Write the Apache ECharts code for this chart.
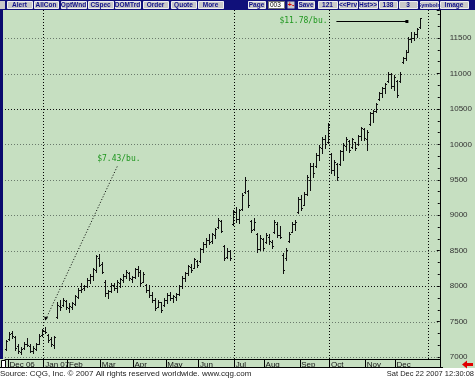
<!DOCTYPE html>
<html><head><meta charset="utf-8">
<script src="https://cdn.jsdelivr.net/npm/echarts@6/dist/echarts.min.js"></script>
<style>html,body{margin:0;padding:0;background:#fff;}#c{width:475px;height:379px;}</style>
</head><body><div id="c"></div>
<script>
// ---- data (soybean futures, cents*10 per bushel) ----
const highs = [7240,7353,7367,7297,7183,7141,7212,7268,7183,7155,7198,7325,7395,7430,7325,7282,7297,
7776,7805,7833,7805,7762,7776,7875,7974,8045,8017,8115,8172,8257,8440,8454,8341,8087,7946,8045,8045,8087,8115,8172,
8228,8200,8144,8257,8285,8228,8200,8031,8017,7918,7833,7805,7776,7833,7904,7918,7875,7904,8017,8144,
8200,8299,8313,8398,8370,8539,8624,8680,8737,8751,8822,8963,8934,8581,8539,8511,9076,9118,9090,9315,
9540,9358,8934,8963,8751,8720,8680,8751,8737,8652,8934,8906,8850,8468,8539,8765,8906,8934,9260,9287,
9330,9570,9739,9739,9880,9993,10106,10135,10304,9880,9782,9739,9923,10022,10106,10064,10092,10036,10135,10247,
10233,10205,10459,10488,10586,10742,10812,10869,11024,11010,10982,10911,11024,11236,11335,11518,11589,11589,11645,11780];
const lows = [7099,7240,7268,7099,7056,7042,7113,7155,7070,7056,7099,7183,7297,7339,7212,7155,7127,
7550,7664,7720,7678,7635,7678,7734,7833,7918,7946,7988,8045,8087,8200,8285,8186,7861,7833,7918,7946,7918,7988,8059,
8115,8087,8059,8115,8144,8017,8059,7918,7847,7776,7664,7706,7635,7720,7762,7805,7776,7805,7875,7974,
8073,8158,8200,8257,8271,8341,8483,8553,8596,8610,8680,8822,8765,8370,8398,8370,8864,8906,8890,9076,
9315,9118,8765,8793,8483,8511,8511,8610,8596,8539,8751,8694,8680,8186,8370,8624,8765,8793,9033,9076,
9146,9287,9358,9541,9683,9782,9880,9951,10022,9598,9570,9499,9711,9782,9923,9894,9951,9923,9993,10064,
10064,9923,10276,10318,10459,10629,10671,10728,10883,10798,10770,10671,10883,11151,11194,11306,11448,11476,11518,11645];
const opens = [7120,7250,7340,7280,7150,7070,7130,7180,7160,7080,7120,7190,7310,7370,7310,7250,7170,
7560,7720,7730,7790,7690,7700,7750,7850,7940,7970,8000,8080,8140,8230,8400,8310,8060,7900,7930,8010,7970,8050,8090,
8140,8190,8100,8130,8240,8200,8060,8020,7950,7880,7800,7710,7770,7730,7800,7880,7830,7850,7890,8000,
8110,8180,8270,8260,8360,8350,8520,8600,8650,8630,8720,8830,8920,8560,8410,8490,8880,9040,8950,9090,
9330,9340,8920,8800,8730,8530,8660,8620,8700,8620,8760,8880,8720,8440,8390,8640,8770,8880,9050,9230,
9150,9300,9500,9700,9700,9850,9950,10080,10030,9860,9640,9720,9720,9900,9980,10050,9960,10030,10000,10120,
10220,10080,10290,10440,10470,10640,10720,10790,10890,10990,10830,10900,10890,11160,11220,11310,11480,11500,11560,11650];
const closes = [7220,7330,7290,7130,7080,7120,7190,7170,7090,7130,7180,7300,7380,7350,7240,7180,7280,
7740,7700,7800,7700,7720,7760,7860,7950,7960,8000,8090,8150,8240,8420,8300,8200,7900,7930,8020,7970,8060,8100,8150,
8200,8110,8130,8240,8200,8050,8170,7940,7870,7800,7690,7780,7660,7810,7880,7830,7860,7890,8000,8120,
8180,8280,8230,8380,8300,8520,8600,8650,8620,8730,8800,8940,8780,8400,8500,8400,9050,8950,9070,9290,
9500,9150,8790,8900,8520,8680,8540,8720,8630,8560,8900,8720,8700,8230,8510,8740,8880,8910,9230,9100,
9300,9540,9700,9600,9850,9960,10080,10000,10280,9640,9750,9540,9900,9990,10080,9920,10070,9950,10120,10230,
10090,10180,10440,10470,10570,10720,10790,10850,10990,10830,10950,10700,11000,11220,11310,11490,11500,11560,11630,11780];

const slotCount = 146;                       // bar slots across the x axis
const categories = Array.from({length: slotCount}, (_, i) => 'd' + i);
const monthLabels = ['Dec 06','Jan 07','Feb','Mar','Apr','May','Jun','Jul','Aug','Sep','Oct','Nov','Dec'];
const monthStarts = [1,13,21,32,43,54,65,77,87,99,109,121,131];
const quarterLines = [13,77,109,142];
const priceGrid = [7000,7500,8000,8500,9000,9500,10000,10500,11000,11500];
const majorGrid = [8000,10500];
const lowNote = {slot: 13, price: 7430, text: '$7.43/bu.'};
const highNote = {slot: 139, price: 11780, text: '$11.78/bu.'};

const toolbarButtons = [
  ['Alert',7,32],['AllCon',34,58],['OptWnd',61,86],['CSpec',88,113],['DOMTrd',115,140],
  ['Order',143,168],['Quote',171,196],['More',198,223],['Page',248,265],['Save',298,314],
  ['121',318,337],['<<Prv',339,357],['Hst>>',359,377],['138',379,397],['3',399,417],
  ['Symbols',420,438],['Image',440,468]
];

const ohlcData = highs.map((h, i) => [i, opens[i], h, lows[i], closes[i]]);

function renderOHLC(params, api) {
  const i = api.value(0);
  const pO = api.coord([i, api.value(1)]);
  const pH = api.coord([i, api.value(2)]);
  const pL = api.coord([i, api.value(3)]);
  const pC = api.coord([i, api.value(4)]);
  const x = Math.round(pH[0]) + 0.5;
  const st = {stroke: '#101010', lineWidth: 1};
  const yo = Math.round(pO[1]) + 0.5, yc = Math.round(pC[1]) + 0.5;
  return {type: 'group', children: [
    {type: 'line', shape: {x1: x, y1: Math.round(pH[1]), x2: x, y2: Math.round(pL[1]) + 1}, style: st},
    {type: 'line', shape: {x1: x - 1.5, y1: yo, x2: x, y2: yo}, style: st},
    {type: 'line', shape: {x1: x, y1: yc, x2: x + 1.5, y2: yc}, style: st}
  ]};
}

const chart = echarts.init(document.getElementById('c'), null, {renderer: 'canvas'});
const GREEN = '#c6dfc1';

const option = {
  animation: false,
  backgroundColor: GREEN,
  grid: {left: 5, right: 32, top: 10, bottom: 20},
  xAxis: {
    type: 'category', data: categories, boundaryGap: true,
    axisLine: {show: true, lineStyle: {color: '#000', width: 1}},
    axisTick: {show: true, length: 8, interval: (idx) => monthStarts.includes(idx), lineStyle: {color: '#000'}},
    axisLabel: {show: true, interval: (idx) => monthStarts.includes(idx), align: 'left', margin: 2,
      formatter: (v, idx) => monthLabels[monthStarts.indexOf(idx)] || '',
      fontSize: 8, fontFamily: 'Liberation Sans', color: '#111'},
    splitLine: {show: true, interval: (idx) => quarterLines.includes(idx),
      lineStyle: {color: '#000', type: [1, 2], width: 1}}
  },
  yAxis: {
    type: 'value', position: 'right', min: 6972, max: 11896, splitNumber: 10, scale: true,
    axisLine: {show: true, lineStyle: {color: '#000', width: 1}},
    axisTick: {show: true, inside: true, length: 3, lineStyle: {color: '#000'}},
    minorTick: {show: true, splitNumber: 3, length: 2, lineStyle: {color: '#000'}},
    splitLine: {show: false},
    axisLabel: {margin: 10, fontSize: 8, fontFamily: 'Liberation Sans', color: '#333',
      formatter: (v) => (v % 500 === 0 ? String(v) : '')}
  },
  series: [{
    type: 'custom', renderItem: renderOHLC, data: ohlcData,
    dimensions: ['slot', 'open', 'high', 'low', 'close'],
    encode: {x: 0, y: [1, 2, 3, 4]}, clip: false, z: 5
  }]
};
chart.setOption(option);

// ---- gridlines, annotations & chrome ----
const g = [];
const gridRect = chart.getModel().getComponent('grid', 0).coordinateSystem.getRect();
priceGrid.forEach(v => {
  const y = Math.round(chart.convertToPixel({yAxisIndex: 0}, v)) + 0.5;
  const major = majorGrid.includes(v);
  g.push({type: 'line', shape: {x1: gridRect.x, y1: y, x2: gridRect.x + gridRect.width, y2: y},
    style: {stroke: major ? '#111' : '#6a7a6c', lineWidth: 1, lineDash: [1, 2]}, z: 1, silent: true});
});
const tipLow = chart.convertToPixel({seriesIndex: 0}, [lowNote.slot, lowNote.price]);
const tipHigh = chart.convertToPixel({seriesIndex: 0}, [highNote.slot, highNote.price]);
// footer
g.push({type: 'rect', shape: {x: 0, y: 368, width: 475, height: 11}, style: {fill: '#fff'}, z: 50});
g.push({type: 'line', shape: {x1: 0, y1: 367.5, x2: 443, y2: 367.5}, style: {stroke: '#000', lineWidth: 1}, z: 51});
g.push({type: 'rect', shape: {x: 1.5, y: 360.5, width: 4, height: 7}, style: {fill: '#fff', stroke: '#000', lineWidth: 1}, z: 51});
g.push({type: 'text', x: 0, y: 374, style: {text: 'Source: CQG, Inc. \u00a9 2007 All rights reserved worldwide. www.cqg.com',
  fontSize: 8, fontFamily: 'Liberation Sans', fill: '#222', verticalAlign: 'middle'}, z: 52});
g.push({type: 'text', x: 474, y: 374, style: {text: 'Sat Dec 22 2007 12:30:08', align: 'right',
  fontSize: 7.5, fontFamily: 'Liberation Sans', fill: '#222', verticalAlign: 'middle'}, z: 52});
// red arrow
g.push({type: 'polygon', shape: {points: [[462,364.5],[467,360.5],[467,363],[473,363],[473,366],[467,366],[467,368.5]]},
  style: {fill: '#e00000'}, z: 52});
// left navy strip and toolbar
g.push({type: 'rect', shape: {x: 0, y: 0, width: 3, height: 359}, style: {fill: '#0a0a6e'}, z: 50});
g.push({type: 'rect', shape: {x: 0, y: 0, width: 475, height: 10}, style: {fill: '#10107a'}, z: 50});
g.push({type: 'rect', shape: {x: 0, y: 1, width: 5, height: 8}, style: {fill: '#c8c8c8'}, z: 51});
toolbarButtons.forEach(([t, x0, x1]) => {
  g.push({type: 'rect', shape: {x: x0 + 0.5, y: 1.5, width: x1 - x0, height: 7},
    style: {fill: '#c9c9c9', stroke: '#f0f0f0', lineWidth: 1}, z: 51});
  g.push({type: 'text', x: (x0 + x1) / 2, y: 5.5, style: {text: t, align: 'center', verticalAlign: 'middle',
    fontSize: t.length > 6 ? 5.5 : 6.5, fontWeight: 'bold', fontFamily: 'Liberation Sans', fill: '#10108a'}, z: 52});
});
g.push({type: 'rect', shape: {x: 268.5, y: 1.5, width: 16, height: 7}, style: {fill: '#fff', stroke: '#777', lineWidth: 1}, z: 51});
g.push({type: 'text', x: 270, y: 5.5, style: {text: '003', verticalAlign: 'middle', fontSize: 6.5, fontFamily: 'Liberation Sans', fill: '#000'}, z: 52});
g.push({type: 'rect', shape: {x: 287.5, y: 1.5, width: 7, height: 7}, style: {fill: '#c9c9c9'}, z: 51});
g.push({type: 'text', x: 291, y: 5.5, style: {text: '+-', align: 'center', verticalAlign: 'middle', fontSize: 7, fontWeight: 'bold', fontFamily: 'Liberation Sans', fill: '#e00000'}, z: 52});
// low annotation
g.push({type: 'text', x: tipLow[0] + 52, y: tipLow[1] - 168, style: {text: lowNote.text, verticalAlign: 'middle',
  fontSize: 8, fontFamily: 'DejaVu Sans Mono', fill: '#1e961e'}, z: 20});
g.push({type: 'line', shape: {x1: tipLow[0] + 72, y1: tipLow[1] - 160, x2: tipLow[0], y2: tipLow[1] - 6},
  style: {stroke: '#000', lineWidth: 1, lineDash: [1, 2]}, z: 20});
g.push({type: 'polygon', shape: {points: [[tipLow[0], tipLow[1] - 6], [tipLow[0] - 1, tipLow[1] - 10], [tipLow[0] + 3, tipLow[1] - 9]]},
  style: {fill: '#000'}, z: 20});
// high annotation
g.push({type: 'text', x: tipHigh[0] - 141, y: tipHigh[1] + 3, style: {text: highNote.text, verticalAlign: 'middle',
  fontSize: 8, fontFamily: 'DejaVu Sans Mono', fill: '#1e961e'}, z: 20});
g.push({type: 'line', shape: {x1: tipHigh[0] - 84, y1: Math.round(tipHigh[1] + 3) + 0.5, x2: tipHigh[0] - 13, y2: Math.round(tipHigh[1] + 3) + 0.5},
  style: {stroke: '#000', lineWidth: 1}, z: 20});
g.push({type: 'rect', shape: {x: tipHigh[0] - 15, y: Math.round(tipHigh[1] + 3) - 1, width: 3, height: 3}, style: {fill: '#000'}, z: 20});
chart.setOption({graphic: {elements: g}});
</script></body></html>
